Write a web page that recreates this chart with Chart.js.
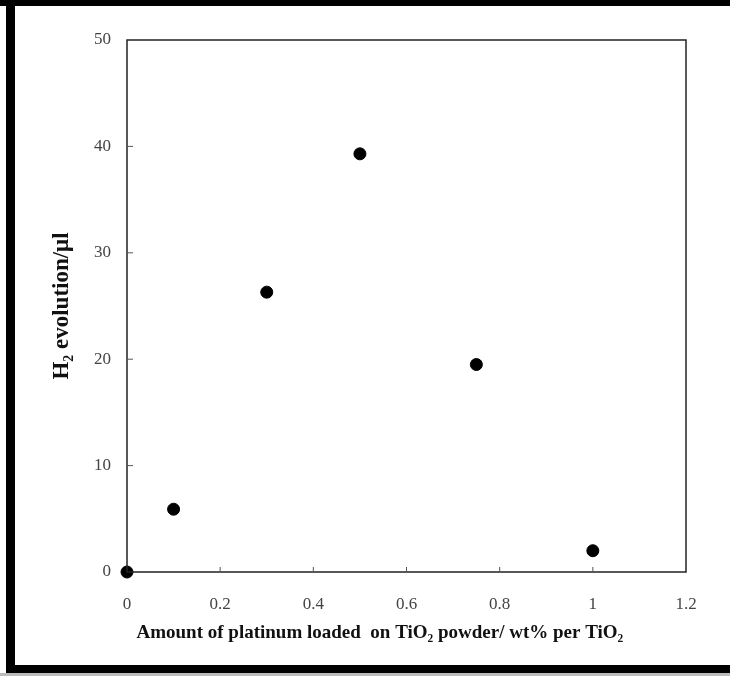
<!DOCTYPE html>
<html lang="en">
  <head>
    <meta charset="UTF-8" />
    <title>H2 evolution vs platinum loading</title>
    <script src="https://cdn.jsdelivr.net/npm/chart.js"></script>
    <style>
      html,
      body {
        margin: 0;
        padding: 0;
        background: #fff;
      }
      #wrap {
        width: 730px;
        height: 676px;
      }
    </style>
  </head>
  <body>
    <div id="wrap"><canvas id="h2Chart" width="730" height="676"></canvas></div>

    <script>
      // Pt loading (wt% per TiO2) and H2 evolved (ul)
      const ptLoading = [0, 0.1, 0.3, 0.5, 0.75, 1.0];
      const h2Evolved = [0, 5.9, 26.3, 39.3, 19.5, 2.0];

      const xTicks = [0, 0.2, 0.4, 0.6, 0.8, 1, 1.2];
      const yTicks = [0, 10, 20, 30, 40, 50];

      const serif = "'Liberation Serif', 'Times New Roman', serif";

      // black photo frame around the figure
      const framePlugin = {
        id: "frame",
        beforeDraw(chart) {
          let c = chart.ctx;
          c.save();
          c.fillStyle = "#fff";
          c.fillRect(0, 0, chart.width, chart.height);
          c.fillStyle = "#000";
          c.fillRect(0, 0, chart.width, 6);
          c.fillRect(6, 0, 9, 673);
          c.fillRect(6, 665, chart.width - 6, 8);
          c.fillStyle = "#bbb";
          c.fillRect(0, 673, chart.width, 3);
          c.restore();
        },
      };

      // box around the plot and short inward ticks
      const boxPlugin = {
        id: "box",
        afterDatasetsDraw(chart) {
          let c = chart.ctx;
          let a = chart.chartArea;
          let xs = chart.scales.x;
          let ys = chart.scales.y;
          c.save();
          c.strokeStyle = "#222";
          c.lineWidth = 1.5;
          c.strokeRect(a.left, a.top, a.right - a.left, a.bottom - a.top);
          c.lineWidth = 1;
          c.strokeStyle = "#555";
          c.beginPath();
          xTicks.slice(1, -1).forEach((v) => {
            let px = xs.getPixelForValue(v);
            c.moveTo(px, a.bottom);
            c.lineTo(px, a.bottom - 5);
          });
          yTicks.slice(1, -1).forEach((v) => {
            let py = ys.getPixelForValue(v);
            c.moveTo(a.left, py);
            c.lineTo(a.left + 6, py);
          });
          c.stroke();
          c.restore();
        },
      };

      const ctx = document.getElementById("h2Chart").getContext("2d");

      new Chart(ctx, {
        type: "scatter",
        data: {
          datasets: [
            {
              label: "H2 evolution",
              data: ptLoading.map((x, i) => ({ x: x, y: h2Evolved[i] })),
              backgroundColor: "#000",
              borderColor: "#000",
              pointRadius: 6,
              pointHoverRadius: 6,
              clip: false,
            },
          ],
        },
        options: {
          responsive: false,
          animation: false,
          layout: { padding: { left: 0, right: 44, top: 40, bottom: 0 } },
          plugins: {
            legend: { display: false },
            tooltip: { enabled: false },
          },
          scales: {
            x: {
              type: "linear",
              min: 0,
              max: 1.2,
              afterBuildTicks(scale) {
                scale.ticks = xTicks.map((v) => ({ value: v }));
              },
              afterFit(scale) {
                scale.height = 104;
              },
              grid: { display: false, drawTicks: false },
              border: { display: false },
              ticks: {
                padding: 22,
                color: "#444",
                font: { family: serif, size: 17 },
                callback: (v) => String(v),
              },
              title: {
                display: true,
                align: "start",
                text: "  Amount of platinum loaded  on TiO\u2082 powder/ wt% per TiO\u2082",
                color: "#111",
                font: { family: serif, size: 19, weight: "bold" },
                padding: { top: 6, bottom: 32 },
              },
            },
            y: {
              min: 0,
              max: 50,
              afterBuildTicks(scale) {
                scale.ticks = yTicks.map((v) => ({ value: v }));
              },
              afterFit(scale) {
                scale.width = 127;
              },
              grid: { display: false, drawTicks: false },
              border: { display: false },
              ticks: {
                padding: 16,
                color: "#444",
                font: { family: serif, size: 17 },
              },
              title: {
                display: true,
                text: "H\u2082 evolution/\u03bcl",
                color: "#111",
                font: { family: serif, size: 23, weight: "bold" },
                padding: { top: 48, bottom: 0 },
              },
            },
          },
        },
        plugins: [framePlugin, boxPlugin],
      });
    </script>
  </body>
</html>
